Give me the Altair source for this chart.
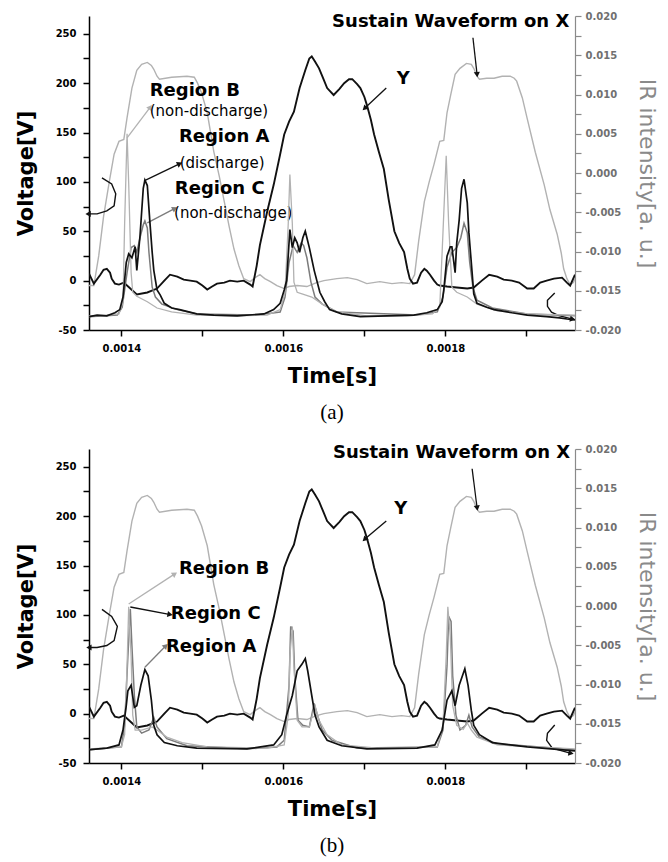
import altair as alt
import pandas as pd

# ---------------- data (time in microseconds, voltage in V, IR in 1e-3 a.u.) ----------------
# Sustain waveform on X (grey, left axis)
X_T = [1360,1366,1372,1378,1385,1391,1397,1403,1407,1413,1419,1425,1432,1437,1440,1444,1447,1462,1481,1490,
       1494,1499,1506,1514,1521,1527,1533,1539,1545,1551,1559,1565,1571,1577,1584,1592,1601,1607,1617,1629,
       1641,1650,1666,1679,1691,1703,1719,1734,1746,1756,1762,1767,1774,1780,1786,1793,1798,1802,1807,1812,
       1818,1826,1832,1835,1839,1842,1851,1860,1870,1880,1885,1888,1895,1901,1911,1922,1929,1938,1943,1946,
       1950,1954,1958,1960]
X_V = [-5,-5,25,65,100,128,141,143,165,195,213,219,221,218,214,207,204,206,207,206,
       200,190,170,131,105,80,55,32,15,2,-1,3,6,2,-1,-5,-8,-6,-5,-6,
       -2,0,2,3,1,-3,-1,-3,-2,-3,6,40,80,100,118,141,142,170,190,209,
       215,220,219,215,207,204,205,205,207,207,205,202,185,164,130,97,72,47,28,12,
       2,-4,-2,2]
# Waveform on Y (black, left axis)
Y_T = [1360,1366,1374,1378,1382,1386,1388,1392,1397,1403,1411,1419,1432,1444,1453,1460,1469,1477,1485,1493,
       1500,1506,1512,1518,1527,1534,1543,1551,1559,1562,1567,1571,1580,1588,1596,1601,1607,1613,1620,1627,
       1632,1635,1639,1644,1649,1654,1662,1669,1675,1681,1685,1691,1695,1700,1703,1708,1712,1718,1724,1730,
       1737,1743,1749,1753,1756,1760,1765,1770,1774,1777,1781,1786,1790,1793,1802,1814,1827,1835,1845,1854,
       1864,1872,1882,1891,1901,1909,1917,1925,1934,1944,1950,1954,1960]
Y_V = [7,-3,6,11,12,8,2,-3,-4,-2,-8,-14,-12,-8,0,6,4,1,0,-1,
       -5,-9,-6,-3,-2,0,-1,0,-4,-6,15,36,70,97,128,148,161,171,195,213,
       225,227,222,215,205,195,188,194,200,204,204,199,195,186,178,163,148,130,113,82,
       50,38,29,12,2,-3,-2,8,12,10,6,0,-4,-5,-6,-7,-8,-7,0,6,
       4,1,0,-2,-8,-8,-2,0,2,3,-2,-5,6]

# (a) IR intensity, right axis
A_A_T = [1360,1370,1382,1392,1398,1402,1406,1409,1413,1417,1419,1423,1427,1429,1432,1435,1438,1440,1444,1448,
         1453,1462,1472,1493,1514,1543,1576,1588,1596,1601,1604,1608,1611,1614,1617,1620,1624,1627,1629,1632,
         1638,1645,1651,1657,1672,1695,1728,1761,1777,1790,1796,1798,1802,1806,1808,1812,1814,1817,1820,1823,
         1827,1829,1830,1833,1835,1839,1851,1860,1882,1901,1925,1941,1950,1960]
A_A_I = [-18.3,-18.1,-18.2,-17.8,-17.4,-15.8,-11.4,-10.3,-10.8,-9.4,-12.4,-8.0,-1.95,-0.9,-1.6,-6.0,-10.1,-12.4,-14.9,-15.55,
         -16.6,-17.2,-17.4,-17.95,-18.1,-18.2,-17.95,-17.4,-16.6,-14.9,-13.7,-7.2,-9.5,-8.25,-8.9,-10.1,-8.25,-7.4,-8.25,-9.5,
         -12.4,-15.2,-16.4,-17.4,-17.95,-18.3,-18.2,-18.1,-17.8,-17.4,-16.4,-14.9,-10.6,-9.4,-9.4,-12.7,-8.9,-6.0,-1.95,-0.8,
         -3.8,-7.6,-8.9,-12.7,-15.4,-16.6,-17.1,-17.4,-17.8,-18.1,-18.3,-18.45,-18.6,-18.7]
A_B_T = [1360,1382,1397,1402,1404,1407,1409,1412,1414,1419,1432,1444,1462,1493,1543,1580,1596,1602,1606,1608,
         1611,1613,1617,1623,1635,1648,1666,1703,1753,1784,1793,1797,1801,1804,1808,1814,1827,1839,1864,1901,1960]
A_B_I = [-18.2,-18.1,-17.95,-16.4,-6.4,5.0,-1.3,-12.7,-15.2,-15.7,-16.4,-17.2,-17.7,-18.1,-18.2,-18.1,-17.4,-15.2,-6.4,-0.2,
         -6.4,-13.9,-15.2,-15.4,-15.8,-16.7,-17.7,-18.2,-18.2,-17.95,-17.1,-7.6,2.2,-6.4,-14.55,-15.2,-15.8,-16.7,-17.55,-17.95,-18.1]
A_C_T = [1360,1395,1401,1407,1412,1416,1419,1423,1427,1429,1432,1434,1438,1442,1450,1469,1493,1567,1596,1602,
         1607,1612,1617,1622,1625,1629,1634,1639,1648,1666,1765,1790,1797,1802,1808,1814,1819,1823,1827,1830,
         1834,1839,1858,1901,1960]
A_C_I = [-18.3,-18.1,-17.1,-12.7,-9.5,-9.25,-10.1,-8.25,-6.6,-6.1,-7.0,-10.1,-14.55,-15.8,-16.7,-17.4,-17.95,-18.1,-17.7,-15.8,
         -11.4,-9.25,-10.1,-8.9,-9.25,-10.8,-13.9,-15.8,-16.7,-17.7,-18.1,-17.7,-15.8,-12.0,-10.1,-9.5,-8.25,-6.4,-7.6,-11.4,
         -14.55,-16.2,-17.2,-17.95,-18.2]

# (b) IR intensity, right axis
B_A_T = [1361,1382,1397,1402,1406,1408,1412,1416,1419,1424,1429,1433,1437,1440,1444,1453,1469,1493,1555,1588,
         1598,1604,1611,1617,1623,1627,1630,1635,1639,1644,1654,1672,1703,1765,1787,1796,1802,1808,1812,1817,
         1822,1824,1828,1832,1835,1842,1858,1901,1960]
B_A_I = [-18.3,-18.1,-17.7,-15.8,-12.7,-10.8,-10.1,-12.9,-12.7,-10.1,-8.1,-8.9,-12.0,-15.2,-16.4,-17.4,-17.8,-18.1,-18.2,-17.7,
         -16.4,-13.9,-11.4,-8.25,-7.4,-6.7,-8.25,-11.4,-13.9,-15.4,-17.1,-17.8,-18.2,-18.1,-17.7,-15.8,-12.0,-10.8,-12.7,-10.1,
         -8.6,-8.0,-10.1,-13.3,-15.2,-16.4,-17.4,-17.95,-18.45]
B_B_T = [1361,1400,1404,1407,1409,1412,1414,1417,1425,1438,1444,1456,1475,1506,1580,1601,1606,1608,1611,1613,
         1617,1623,1632,1639,1644,1654,1672,1716,1790,1797,1801,1803,1806,1809,1814,1822,1827,1832,1839,1864,1960]
B_B_I = [-18.2,-17.95,-16.4,-7.6,-0.1,-6.4,-13.9,-15.8,-15.8,-15.4,-15.8,-16.7,-17.4,-17.95,-18.1,-17.7,-13.9,-6.4,-2.6,-7.6,
         -14.55,-15.4,-15.4,-12.7,-14.55,-16.4,-17.7,-18.1,-17.95,-15.2,-6.4,-0.1,-3.8,-12.7,-15.2,-15.7,-14.9,-15.8,-16.7,-17.7,-18.2]
B_C_T = [1361,1400,1404,1408,1411,1413,1416,1419,1425,1434,1440,1444,1456,1481,1555,1592,1601,1607,1609,1612,
         1614,1618,1624,1632,1638,1642,1648,1660,1691,1790,1797,1802,1804,1807,1809,1813,1818,1825,1829,1833,
         1842,1864,1960]
B_C_I = [-18.3,-17.95,-15.2,-6.4,-0.4,-5.1,-11.4,-15.4,-16.2,-15.8,-14.2,-15.4,-16.9,-17.8,-18.2,-17.95,-17.1,-10.1,-2.6,-3.2,
         -8.9,-14.55,-15.2,-15.4,-12.4,-13.9,-15.8,-17.1,-18.1,-17.95,-15.8,-7.6,-1.3,-1.95,-8.9,-13.9,-15.8,-15.2,-13.9,-15.4,
         -16.7,-17.55,-18.3]

X_TICKS = [1400, 1500, 1600, 1700, 1800, 1900]
V_TICKS = [-50, -25, 0, 25, 50, 75, 100, 125, 150, 175, 200, 225, 250]
IR_TICKS = [-20, -17.5, -15, -12.5, -10, -7.5, -5, -2.5, 0, 2.5, 5, 7.5, 10, 12.5, 15, 17.5, 20]

# ---------------- annotations (data coordinates) ----------------
BLACK, MID, LIGHT = "#111111", "#7c7c7c", "#b2b2b2"
ARROWS_A = [  # t1, v1, t2, v2, colour, head angle at (t2, v2)
    (1834, 246, 1839, 209.5, BLACK, 174),
    (1727, 195, 1701, 175, BLACK, 226),
    (1428, 101, 1471, 118, BLACK, 64),
    (1432, 58.5, 1465, 72.7, MID, 63),
    (1407, 144.6, 1435, 175, LIGHT, 37),
]
ARROWS_B = [
    (1833, 248, 1839, 209, BLACK, 171),
    (1727, 195, 1701, 177, BLACK, 226),
    (1409, 111, 1465, 141, LIGHT, 56),
    (1411, 108, 1459, 100.5, BLACK, 100),
    (1429, 47, 1454, 68, MID, 44),
]
CURVES_A = [
    ([1360, 1370, 1382, 1391, 1393, 1388, 1376], [67.6, 67.6, 70.6, 75.7, 87.9, 98, 104.1], 270, 0),
    ([1935, 1926, 1926, 1931, 1940, 1956], [-12.5, -20, -26, -32, -35.5, -38.8], 100, -1),
]
CURVES_B = [
    ([1361, 1370, 1382, 1391, 1395, 1388, 1376], [67, 67, 69, 74, 88.3, 98.5, 105.6], 270, 0),
    ([1935, 1926, 1925, 1932, 1954], [-11.6, -20, -27, -35, -40], 100, -1),
]
TEXTS_A = [  # label, t, v, align, bold
    ("Sustain Waveform on X", 1953, 262, "right", True),
    ("Y", 1748, 204, "center", True),
    ("Region B", 1435, 192, "left", True),
    ("(non-discharge)", 1435, 172, "left", False),
    ("Region A", 1471, 145, "left", True),
    ("(discharge)", 1472, 119, "left", False),
    ("Region C", 1466, 93, "left", True),
    ("(non-discharge)", 1465, 68.6, "left", False),
]
TEXTS_B = [
    ("Sustain Waveform on X", 1954, 264, "right", True),
    ("Y", 1745, 207, "center", True),
    ("Region B", 1471, 146, "left", True),
    ("Region C", 1461, 100.5, "left", True),
    ("Region A", 1455, 67, "left", True),
]

FONT = "DejaVu Sans"
GREY_AX = "#8a8a8a"

x_axis = alt.Axis(
    values=X_TICKS, title="Time[s]", orient="bottom",
    labelExpr="datum.value % 200 == 0 ? format(datum.value / 1000000, '.4f') : ''",
    tickSize=6, tickWidth=1.5, labelPadding=7, titlePadding=12,
    domainColor="black", domainWidth=1.5, tickColor="black", labelColor="black",
    labelFont=FONT, labelFontSize=10, labelFontWeight="bold",
    titleFont=FONT, titleFontSize=21, titleFontWeight="bold", titleColor="black",
    grid=False, labelFlush=False,
)
yl_axis = alt.Axis(
    values=V_TICKS, title="Voltage[V]", orient="left",
    labelExpr="datum.value % 50 == 0 ? (datum.value < 0 ? '-' : '') + abs(datum.value) : ''",
    tickSize=6, tickWidth=1.5, labelPadding=7, titlePadding=19,
    domainColor="black", domainWidth=1.5, tickColor="black", labelColor="black",
    labelFont=FONT, labelFontSize=10, labelFontWeight="bold",
    titleFont=FONT, titleFontSize=21, titleFontWeight="bold", titleColor="black",
    grid=False,
)
yr_axis = alt.Axis(
    values=IR_TICKS, title="IR intensity[a. u.]", orient="right",
    labelExpr="datum.value % 5 == 0 ? (datum.value < 0 ? '-' : '') + format(abs(datum.value) / 1000, '.3f') : ''",
    tickSize=6, tickWidth=1.2, labelPadding=4, titlePadding=14,
    domainColor=GREY_AX, domainWidth=1.2, tickColor=GREY_AX, labelColor="#707070",
    labelFont=FONT, labelFontSize=10, labelFontWeight="bold",
    titleFont=FONT, titleFontSize=22, titleFontWeight="normal", titleColor=GREY_AX,
    grid=False,
)

xs = alt.Scale(domain=[1360, 1960], nice=False, zero=False)
vs = alt.Scale(domain=[-50, 268], nice=False, zero=False)
irs = alt.Scale(domain=[-20, 20], nice=False, zero=False)


def X():
    return alt.X("t:Q", scale=xs, axis=x_axis)


def YV():
    return alt.Y("v:Q", scale=vs, axis=yl_axis)


def YI():
    return alt.Y("ir:Q", scale=irs, axis=yr_axis)


def vline(t, v, color, w):
    return alt.Chart(pd.DataFrame({"t": t, "v": v})).mark_line(
        color=color, strokeWidth=w, clip=True).encode(x=X(), y=YV())


def irline(t, i, color, w):
    return alt.Chart(pd.DataFrame({"t": t, "ir": i})).mark_line(
        color=color, strokeWidth=w, clip=True).encode(x=X(), y=YI())


def panel(ir_sets, arrows, curves, texts, caption):
    vl = [vline(X_T, X_V, LIGHT, 1.4), vline(Y_T, Y_V, BLACK, 1.9)]

    adf = pd.DataFrame(arrows, columns=["t", "v", "t2", "v2", "c", "ang"])
    vl.append(alt.Chart(adf).mark_rule(strokeWidth=1.3).encode(
        x=X(), y=YV(), x2="t2:Q", y2="v2:Q", color=alt.Color("c:N", scale=None)))
    hdf = pd.DataFrame({"t": adf["t2"], "v": adf["v2"], "c": adf["c"], "ang": adf["ang"]})

    rows, heads = [], []
    for k, (ct, cv, ang, hi) in enumerate(curves):
        for i, (a, b) in enumerate(zip(ct, cv)):
            rows.append({"t": a, "v": b, "k": k, "i": i})
        heads.append({"t": ct[hi], "v": cv[hi], "c": BLACK, "ang": ang})
    cdf = pd.DataFrame(rows)
    vl.append(alt.Chart(cdf).mark_line(color=BLACK, strokeWidth=1.4).encode(
        x=X(), y=YV(), detail="k:N", order="i:Q"))
    hdf = pd.concat([hdf, pd.DataFrame(heads)], ignore_index=True)
    vl.append(alt.Chart(hdf).mark_point(shape="triangle", filled=True, size=38, opacity=1).encode(
        x=X(), y=YV(), color=alt.Color("c:N", scale=None), angle=alt.Angle("ang:Q", scale=None)))

    tdf = pd.DataFrame(texts, columns=["label", "t", "v", "align", "bold"])
    for (al, bd), g in tdf.groupby(["align", "bold"]):
        vl.append(alt.Chart(g).mark_text(
            align=al, baseline="middle", font=FONT,
            fontSize=18 if bd else 15, fontWeight="bold" if bd else "normal",
            color="black").encode(x=X(), y=YV(), text="label:N"))

    il = [irline(t, i, c, w) for (t, i, c, w) in ir_sets]
    return alt.layer(alt.layer(*vl), alt.layer(*il)).resolve_scale(y="independent").properties(
        width=486, height=314,
        title=alt.TitleParams(caption, orient="bottom", anchor="middle", frame="group",
                              font="Liberation Serif", fontSize=21, fontWeight="normal",
                              color="black", offset=16),
    )


panel_a = panel([(A_C_T, A_C_I, MID, 1.5), (A_B_T, A_B_I, LIGHT, 1.3), (A_A_T, A_A_I, BLACK, 1.7)],
                 ARROWS_A, CURVES_A, TEXTS_A, "(a)")
panel_b = panel([(B_C_T, B_C_I, MID, 1.5), (B_B_T, B_B_I, LIGHT, 1.3), (B_A_T, B_A_I, BLACK, 1.7)],
                 ARROWS_B, CURVES_B, TEXTS_B, "(b)")

chart = alt.vconcat(panel_a, panel_b, spacing=20).properties(
    padding={"left": 15, "top": 11, "right": 1, "bottom": 1},
    background="white",
).configure_view(stroke=None)

chart.save("out.html", embed_options={"renderer": "svg", "actions": False})
